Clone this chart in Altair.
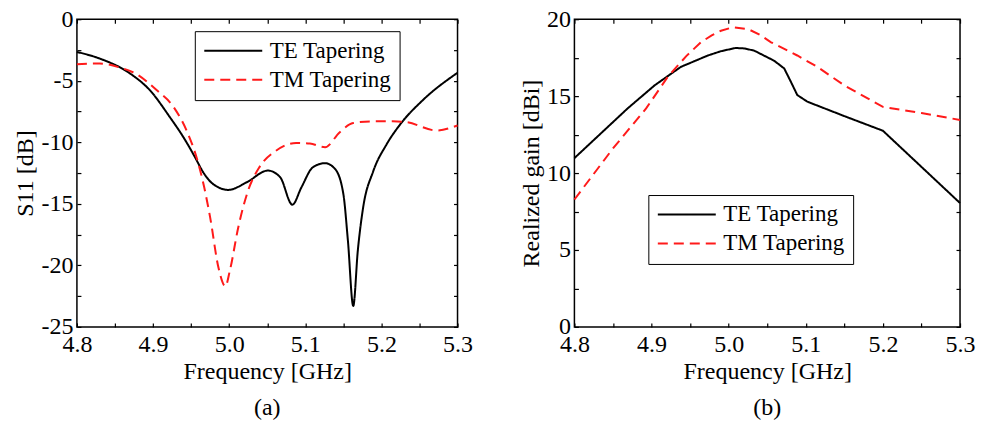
import altair as alt
import pandas as pd

FONT = "Liberation Serif"

series = ["TE Tapering", "TM Tapering"]
colors = ["#000000", "#ff1a1a"]
dashes = [[1, 0], [10, 6]]

# (a) S11 [dB]
s11_te_f = [4.80, 4.83, 4.87, 4.896, 4.922, 4.94, 4.955, 4.966, 4.979, 4.999, 5.023, 5.051,
            5.067, 5.083, 5.095, 5.110, 5.126, 5.139, 5.150, 5.156, 5.163, 5.169, 5.176,
            5.189, 5.2065, 5.224, 5.254, 5.30]
s11_te_v = [-2.66, -3.2, -4.42, -5.78, -7.95, -9.6, -11.2, -12.45, -13.4, -13.87, -13.25, -12.3,
            -12.84, -15.07, -13.65, -12.03, -11.7, -12.16, -14.2, -18.0, -23.3, -18.8, -15.3,
            -12.4, -10.2, -8.6, -6.6, -4.35]
s11_tm_f = [4.80, 4.83, 4.855, 4.877, 4.905, 4.927, 4.944, 4.957, 4.967, 4.975, 4.986, 4.995,
            5.001, 5.012, 5.025, 5.040, 5.062, 5.088, 5.106, 5.126, 5.145, 5.163, 5.189,
            5.215, 5.233, 5.272, 5.30]
s11_tm_v = [-3.66, -3.6, -3.9, -4.42, -5.78, -7.14, -9.04, -11.2, -13.6, -16.1, -20.2, -21.7,
            -20.4, -16.9, -13.9, -12.0, -10.67, -10.05, -10.1, -10.4, -9.2, -8.44, -8.3,
            -8.3, -8.36, -9.04, -8.63]

# (b) Realized gain [dBi]
gain_te_f = [4.80, 4.869, 4.904, 4.938, 4.973, 4.99, 5.009, 5.02, 5.033, 5.059, 5.072, 5.08,
             5.089, 5.102, 5.15, 5.20, 5.30]
gain_te_v = [10.97, 14.2, 15.7, 16.9, 17.64, 17.92, 18.13, 18.1, 17.96, 17.3, 16.8, 16.0,
             15.07, 14.64, 13.7, 12.75, 8.05]
gain_tm_f = [4.80, 4.85, 4.893, 4.921, 4.945, 4.964, 4.978, 4.99, 5.005, 5.025, 5.04, 5.055,
             5.089, 5.115, 5.15, 5.20, 5.25, 5.30]
gain_tm_v = [8.28, 11.6, 14.2, 16.25, 17.6, 18.5, 18.95, 19.25, 19.47, 19.36, 19.0, 18.5,
             17.64, 16.9, 15.7, 14.3, 13.9, 13.45]

x_ticks = [round(4.8 + 0.05 * i, 2) for i in range(11)]
s11_ticks = [-2.5 * i for i in range(11)]
gain_ticks = [2.5 * i for i in range(9)]


def frame(f1, v1, f2, v2):
    return pd.DataFrame({
        "f": f1 + f2,
        "v": v1 + v2,
        "s": [series[0]] * len(f1) + [series[1]] * len(f2),
    })


XLAB = "abs(datum.value*10 - round(datum.value*10)) < 0.001 ? format(datum.value, '.1f') : ''"
YLAB = ("abs(datum.value % 5) < 0.001 ? (datum.value < 0 ? '-' + format(abs(datum.value), 'd') "
        ": format(datum.value, 'd')) : ''")

common = dict(domain=False, tickSize=4, offset=-4, tickColor="black", tickWidth=1.2,
              labelFont=FONT, labelFontSize=24, labelColor="black", titleFont=FONT,
              titleFontSize=24, titleFontWeight="normal", titleColor="black", grid=False,
              labelFlush=False, labelOverlap=False)


def panel(df, ylab, ydom, yticks, legx, legy, cap, w, h, interp):
    xsc = alt.Scale(domain=[4.8, 5.3], nice=False, zero=False)
    ysc = alt.Scale(domain=ydom, nice=False, zero=False)
    leg = alt.Legend(orient="none", legendX=legx, legendY=legy, title=None,
                     symbolType="M-3,0H3", symbolSize=374, symbolStrokeWidth=2,
                     symbolOffset=19, labelOffset=25,
                     labelFont=FONT, labelFontSize=23, labelColor="black",
                     strokeColor="black", fillColor="white", padding=8, rowPadding=5,
                     cornerRadius=0)
    lines = alt.Chart(df).mark_line(strokeWidth=2, interpolate=interp).encode(
        x=alt.X("f:Q", scale=xsc, axis=alt.Axis(values=x_ticks, labelExpr=XLAB,
                                                  title="Frequency [GHz]", labelPadding=6,
                                                  titlePadding=3, **common)),
        y=alt.Y("v:Q", scale=ysc, axis=alt.Axis(values=yticks, labelExpr=YLAB, title=ylab,
                                                  labelPadding=4, titlePadding=3, **common)),
        color=alt.Color("s:N", scale=alt.Scale(domain=series, range=colors), legend=leg),
        strokeDash=alt.StrokeDash("s:N", scale=alt.Scale(domain=series, range=dashes),
                                  legend=leg),
    )
    mirror = alt.Chart(df).mark_point(opacity=0).encode(
        x=alt.X("f:Q", scale=xsc, axis=alt.Axis(orient="top", values=x_ticks, labels=False,
                                                  title=None, **common)),
        y=alt.Y("v:Q", scale=ysc, axis=alt.Axis(orient="right", values=yticks, labels=False,
                                                  title=None, **common)),
    )
    return alt.layer(lines, mirror).resolve_axis(x="independent", y="independent").properties(
        width=w, height=h,
        title=alt.TitleParams(cap, orient="bottom", font=FONT, fontSize=24,
                              fontWeight="normal", color="black", offset=12),
    )


left = panel(frame(s11_te_f, s11_te_v, s11_tm_f, s11_tm_v), "S11 [dB]", [-25, 0], s11_ticks,
             118, 12, "(a)", 381, 308, "monotone")
right = panel(frame(gain_te_f, gain_te_v, gain_tm_f, gain_tm_v), "Realized gain [dBi]",
              [0, 20], gain_ticks, 74, 176, "(b)", 386, 308, "linear")

chart = alt.hconcat(left, right, spacing=45).properties(
    padding={"left": 13, "top": 6, "right": 5, "bottom": 5},
    background="white",
).configure_view(stroke="black", strokeWidth=1.5).resolve_scale(color="independent",
                                                               strokeDash="independent")

chart.save("out.html", embed_options={"renderer": "svg", "actions": False})
